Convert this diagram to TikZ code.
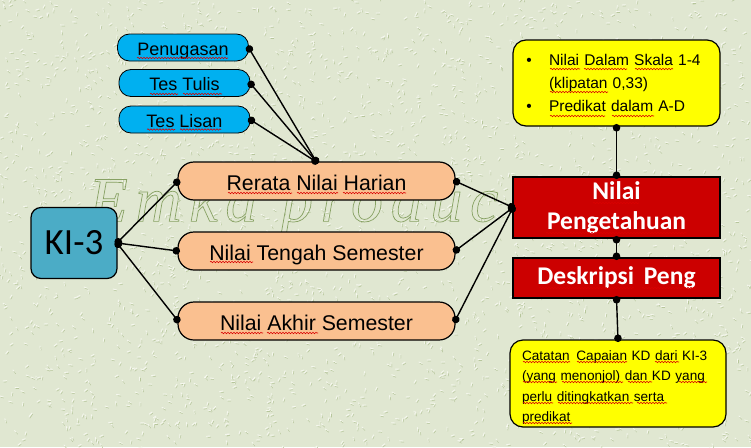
\documentclass[tikz,border=0pt]{standalone}
\usepackage{fontspec}
\setmainfont{Liberation Sans}
\newfontfamily\calibrifont{Carlito}
\newfontfamily\markfont{Liberation Serif}[LetterSpace=12]
\usetikzlibrary{arrows,decorations.pathmorphing}
\definecolor{paper}{HTML}{E0E7D1}
\definecolor{paperdark}{HTML}{B7C69C}
\definecolor{paperlight}{HTML}{F5F7EE}
\definecolor{sky}{HTML}{00B0F0}
\definecolor{peach}{HTML}{FAC090}
\definecolor{teal}{HTML}{4BACC6}
\definecolor{crimson}{HTML}{CC0000}
\definecolor{lemon}{HTML}{FFFF00}
\newcommand{\outlinetext}[1]{\special{pdf:code q 1 Tr 0.7 w 0.53 0.63 0.39 RG}#1\special{pdf:code Q}}
\newcommand{\bulletpoint}{\hspace*{2.5pt}\makebox[0pt]{\textbullet}\hspace*{20pt}}
\tikzset{
	blue node/.style={draw,thick,fill=sky,rounded corners=12pt,inner sep=0pt,outer sep=0pt,minimum width=131pt,minimum height=27pt,text height=15pt,text depth=0pt,font=\fontsize{18}{20}\selectfont},
	peach node/.style={draw,very thick,fill=peach,rounded corners=16pt,inner sep=0pt,outer sep=0pt,minimum width=277pt,minimum height=38pt,text height=18pt,text depth=0pt,font=\fontsize{21.3}{24}\selectfont},
	red node/.style={draw,very thick,fill=crimson,inner sep=0pt,outer sep=0pt,minimum width=207pt,text=white,align=center,font=\calibrifont\bfseries\fontsize{25.5}{29.5}\selectfont},
	yellow node/.style={draw,very thick,fill=lemon,rounded corners=13pt,inner sep=0pt,outer sep=0pt,align=left},
	squiggle/.style={draw=red!85!black,line width=0.6pt,decorate,decoration={snake,amplitude=0.7pt,segment length=3pt}}
}
\begin{document}
\begin{tikzpicture}[>=stealth',x=1pt,y=-1pt,line width=1.4pt]

	\useasboundingbox (0,0) rectangle (751,447);
	\begin{scope}
		\clip (0,0) rectangle (751,447);
		\fill[paper] (0,0) rectangle (751,447);
		\pgfmathsetseed{17}
		\foreach \i in {1,...,2600}{
			\pgfmathsetmacro{\px}{random(0,751)}
			\pgfmathsetmacro{\py}{random(0,447)}
			\pgfmathsetmacro{\pa}{random(0,360)}
			\draw[paperlight,line width=0.9pt,line cap=round] (\px,\py) -- ++(\pa:3.5);
			\draw[paperdark,line width=0.5pt,line cap=round] (\px+0.8,\py+1.2) -- ++(\pa:3);
		}
	\end{scope}
	\node[font=\markfont\itshape\fontsize{64}{66}\selectfont,anchor=west,inner sep=0pt] (10) at (88,206) {\outlinetext{Emka produc}};

	\node[blue node] (1) at (183,47.5) {Penugasan};
	\node[blue node] (2) at (184.5,83) {Tes Tulis};
	\node[blue node] (3) at (184.5,119.5) {Tes Lisan};
	\node[peach node] (4) at (316.5,181) {Rerata Nilai Harian};
	\node[peach node] (5) at (316.5,251) {Nilai Tengah Semester};
	\node[peach node] (6) at (316.5,321) {Nilai Akhir Semester};
	\node[draw,very thick,fill=teal,rounded corners=10pt,outer sep=0pt,minimum width=86pt,minimum height=71pt,inner sep=0pt,font=\calibrifont\fontsize{37}{40}\selectfont] (7) at (74,243) {KI-3};
	\node[red node,minimum height=61pt] (8) at (616.5,207.5) {Nilai\\Pengetahuan};
	\node[red node,minimum height=40pt] (9) at (616.5,278) {Deskripsi\hspace{4pt} Peng};
	\node[yellow node,minimum width=207pt,minimum height=86pt,text width=180pt,font=\fontsize{15.5}{23}\selectfont] (12) at (616.5,83)
		{\bulletpoint Nilai Dalam Skala 1-4\\\hspace*{22.5pt}(klipatan 0,33)\\\bulletpoint Predikat dalam A-D};
	\node[yellow node,minimum width=216pt,minimum height=87pt,text width=192pt,font=\fontsize{13.6}{20.5}\selectfont] (13) at (618,383.5)
		{\rule{0pt}{18pt}Catatan\, Capaian KD dari KI-3\\(yang menonjol) dan KD yang\\perlu ditingkatkan serta\\predikat};

	\path[*-*,shorten >=-2pt,shorten <=-2pt]
	(1.east) edge (4.north)
	(2.east) edge (4.north)
	(3.east) edge (4.north)
	(7.east) edge (4.west)
	(7.east) edge (5.west)
	(7.east) edge (6.west)
	(4.east) edge (8.west)
	(5.east) edge (8.west)
	(6.east) edge (8.west)
	(12.south) edge (8.north)
	(8.south) edge (9.north)
	(9.south) edge (13.north);

	\foreach \a/\b/\c in {137/228/58,150/178/94,183/222/94,147/175/129.5,180/221/129.5,
		228/292/193,297/338/193,343/406/193,210/253/262,221/263/333,267/318/333,
		550/580/69,584/627/69,635/673/69,550/608/92,550/605/116,612/654/116,
		593/639/203,546/687/233,539/634/288,642/696/288,
		523/570/362,577/627/362,655/679/362,523/557/382,562/623/382,628/652/382,679/707/382,
		523/553/403,558/633/403,637/667/403,523/572/423}
		\path[squiggle] (\a,\c) -- (\b,\c);
\end{tikzpicture}
\end{document}
